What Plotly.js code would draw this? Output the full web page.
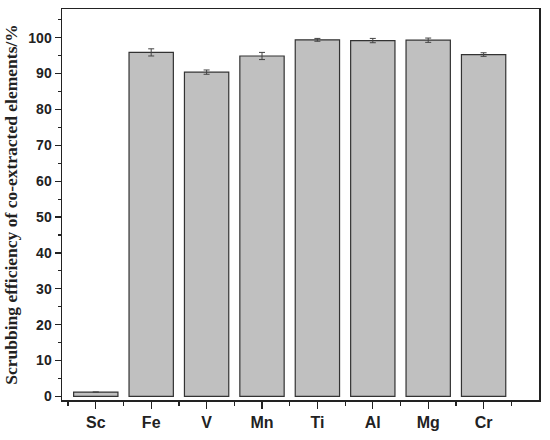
<!DOCTYPE html>
<html>
<head>
<meta charset="utf-8">
<script src="https://cdn.plot.ly/plotly-3.0.1.min.js"></script>
<style>
  html, body { margin: 0; padding: 0; background: #fff; }
  #chart { width: 550px; height: 440px; }
</style>
</head>
<body>
<div id="chart"></div>
<script>
// Eléments co-extraits et efficacité de lavage (%)
const elements = ['Sc', 'Fe', 'V', 'Mn', 'Ti', 'Al', 'Mg', 'Cr'];
const efficiency = [1.2, 95.9, 90.4, 94.9, 99.4, 99.2, 99.3, 95.3];
const errors = [null, 1.0, 0.6, 1.0, 0.4, 0.6, 0.6, 0.5];
const positions = elements.map((_, i) => i);

const trace = {
    type: 'bar',
    x: positions,
    y: efficiency,
    width: 0.8,
    marker: { color: '#c0c0c0', line: { color: '#333333', width: 1.2 } },
    error_y: { type: 'data', array: errors, visible: true, color: '#444444', thickness: 1, width: 3 },
    hoverinfo: 'none'
};

const layout = {
    width: 550,
    height: 440,
    margin: { l: 62, r: 11, t: 9, b: 40 },
    paper_bgcolor: '#ffffff',
    plot_bgcolor: '#ffffff',
    showlegend: false,
    xaxis: {
        range: [-0.61, 8.0],
        tickvals: positions,
        ticktext: elements,
        ticks: 'outside',
        ticklen: 7,
        tickwidth: 1.2,
        tickcolor: '#222',
        showline: true,
        linecolor: '#222',
        linewidth: 1.5,
        mirror: true,
        showgrid: false,
        zeroline: false,
        tickfont: { family: 'Liberation Sans, Arial, sans-serif', size: 16, color: '#222', weight: 'bold' },
        minor: { tick0: 0.5, dtick: 1, ticks: 'outside', ticklen: 4, tickwidth: 1.2, tickcolor: '#222', showgrid: false }
    },
    yaxis: {
        range: [-1, 108],
        tickvals: [0, 10, 20, 30, 40, 50, 60, 70, 80, 90, 100],
        ticks: 'outside',
        ticklen: 6,
        tickwidth: 1.2,
        tickcolor: '#222',
        showline: true,
        linecolor: '#222',
        linewidth: 1.5,
        mirror: true,
        showgrid: false,
        zeroline: false,
        tickfont: { family: 'Liberation Sans, Arial, sans-serif', size: 14, color: '#222', weight: 'bold' },
        minor: { tick0: 5, dtick: 10, ticks: 'outside', ticklen: 3, tickwidth: 1.2, tickcolor: '#222', showgrid: false },
        title: {
            text: 'Scrubbing efficiency of co-extracted elements/%',
            font: { family: 'Liberation Serif, Times New Roman, serif', size: 17.5, color: '#222', weight: 'bold' },
            standoff: 6
        }
    }
};

Plotly.newPlot('chart', [trace], layout, { staticPlot: true, displayModeBar: false });
</script>
</body>
</html>
